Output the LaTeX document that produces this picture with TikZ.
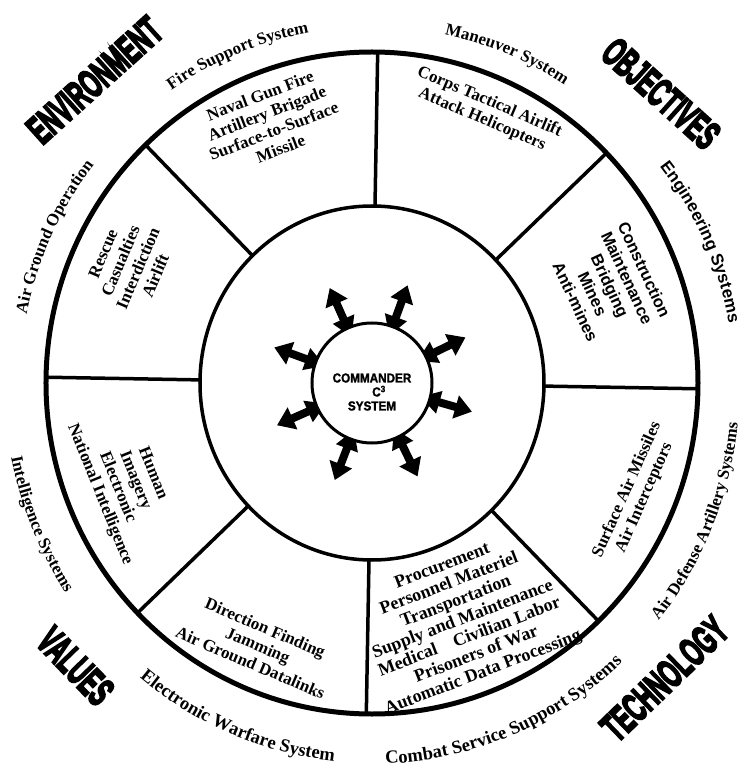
\documentclass[tikz,border=0pt]{standalone}
\usepackage{fontspec}
\setmainfont{Liberation Serif}
\newfontfamily\sansfont{Liberation Sans}
\newfontfamily\heavyfont[FakeBold=6]{Liberation Sans Bold}
\newfontfamily\hubfont[FakeStretch=0.9,FakeBold=1.5]{Liberation Sans Bold}
\usetikzlibrary{arrows.meta,calc,decorations.text}

\newcommand\sysfont{\fontsize{17}{19}\selectfont\bfseries}
\newcommand\sysfontlow{\fontsize{18.5}{19}\selectfont\bfseries}
\newcommand\syssans{\sansfont\fontsize{17}{19}\selectfont\bfseries}

\tikzset{
  ring/.style={line width=5pt},
  spoke/.style={line width=3.5pt},
  duty/.style={font=\fontsize{17}{19}\selectfont\bfseries, align=center, inner sep=0pt},
  engduty/.style={font=\sansfont\fontsize{16.5}{19}\selectfont\bfseries, align=center, inner sep=0pt},
  area/.style={font=\heavyfont\fontsize{40}{40}\selectfont, inner sep=0pt},
  syslabel/.style={decorate, decoration={text along path, text align=center, text={|\sysfont|#1}}},
  syslabellow/.style={decorate, decoration={text along path, text align=center, text={|\sysfontlow|#1}}},
  syssanslabel/.style={decorate, decoration={text along path, text align=center, text={|\syssans|#1}}},
  outarrow/.style={line width=8pt, {Triangle[length=20pt,width=22pt]}-{Triangle[length=17pt,width=23pt]}},
  hubdisc/.style={circle, draw, fill=white, line width=3pt, minimum size=120pt, inner sep=0pt}
}

\begin{document}
\begin{tikzpicture}[x=1pt, y=1pt]
  \useasboundingbox (-372,-388) rectangle (373,383);

  % the two rings and the eight spokes between them
  \draw[ring] (0,0) ellipse [x radius=326, y radius=331];
  \draw[spoke] (0,0) ellipse [x radius=172, y radius=177];
  \foreach \a in {89,44,-1,-46,-91,-136,179,134}
    \draw[spoke] (\a:172 and 177) -- (\a:326 and 331);

  % system names round the rim: upper half clockwise, lower half anticlockwise
  \path[syslabel=Fire Support System] (135:352 and 356) arc[start angle=135, end angle=90, x radius=352, y radius=356];
  \path[syslabel=Maneuver System] (90:352 and 356) arc[start angle=90, end angle=45, x radius=352, y radius=356];
  \path[syssanslabel=Engineering Systems] (46:362 and 356) arc[start angle=46, end angle=1, x radius=362, y radius=356];
  \path[syslabel=Air Ground Operation] (178:352 and 356) arc[start angle=178, end angle=133, x radius=352, y radius=356];
  \path[syslabel=Intelligence Systems] (180:368 and 379) arc[start angle=180, end angle=225, x radius=368, y radius=379];
  \path[syslabellow=Electronic Warfare System] (-135:368 and 380) arc[start angle=-135, end angle=-90, x radius=368, y radius=380];
  \path[syslabellow=Combat Service Support Systems] (-90:368 and 381) arc[start angle=-90, end angle=-45, x radius=368, y radius=381];
  \path[syslabel=Air Defense Artillery Systems] (-45:368 and 379) arc[start angle=-45, end angle=0, x radius=368, y radius=379];

  % contents of each sector
  \node[duty, rotate=21] (fire) at (111.3:280) {Naval Gun Fire\\Artillery Brigade\\Surface-to-Surface\\Missile};
  \node[duty, rotate=-23] (move) at (67.3:295) {Corps Tactical Airlift\\Attack Helicopters};
  \node[engduty, rotate=-65] (engr) at (22.2:257) {Construction\\Maintenance\\Bridging\\Mines\\Anti-mines};
  \node[duty, rotate=66] (airdef) at (-22.8:286) {Surface Air Missiles\\Air Interceptors};
  \node[duty, font=\fontsize{18}{19}\selectfont\bfseries, rotate=21] (css) at (-69:254)
    {Procurement\\Personnel Materiel\\Transportation\\Supply and Maintenance\\Medical\quad Civilian Labor\\Prisoners of War\\Automatic Data Processing};
  \node[duty, rotate=-23] (ew) at (-113.5:286) {Direction Finding\\Jamming\\Air Ground Datalinks};
  \node[duty, rotate=-68] (intel) at (-157.7:266) {Human\\Imagery\\Electronic\\National Intelligence};
  \node[duty, rotate=67] (agop) at (154:270) {Rescue\\Casualties\\Interdiction\\Airlift};

  % corner headings, squeezed sideways after turning
  \node[area, rotate=42, xscale=0.56] (env) at (-277.5,303) {ENVIRONMENT};
  \node[area, rotate=-42, xscale=0.56] (obj) at (289,289.5) {OBJECTIVES};
  \node[area, rotate=-46, xscale=0.56] (val) at (-296.5,-283) {VALUES};
  \node[area, rotate=44, xscale=0.56] (tech) at (292.5,-295.5) {TECHNOLOGY};

  % commander hub with its arrows
  \coordinate (hub) at (0,0);
  \foreach \a in {114,70,26,-16,-64,-111,-156,160}
    \draw[outarrow] ($(hub)+(\a:50)$) -- ($(hub)+(\a:104)$);
  \node[hubdisc] (cmd) at (hub) {};
  \node[font=\hubfont\fontsize{13}{14}\selectfont, align=center, inner sep=0pt] (cmdname) at ([yshift=-9pt]cmd.center)
    {COMMANDER\\\hspace*{14pt}C\textsuperscript{3}\\SYSTEM};
\end{tikzpicture}
\end{document}
